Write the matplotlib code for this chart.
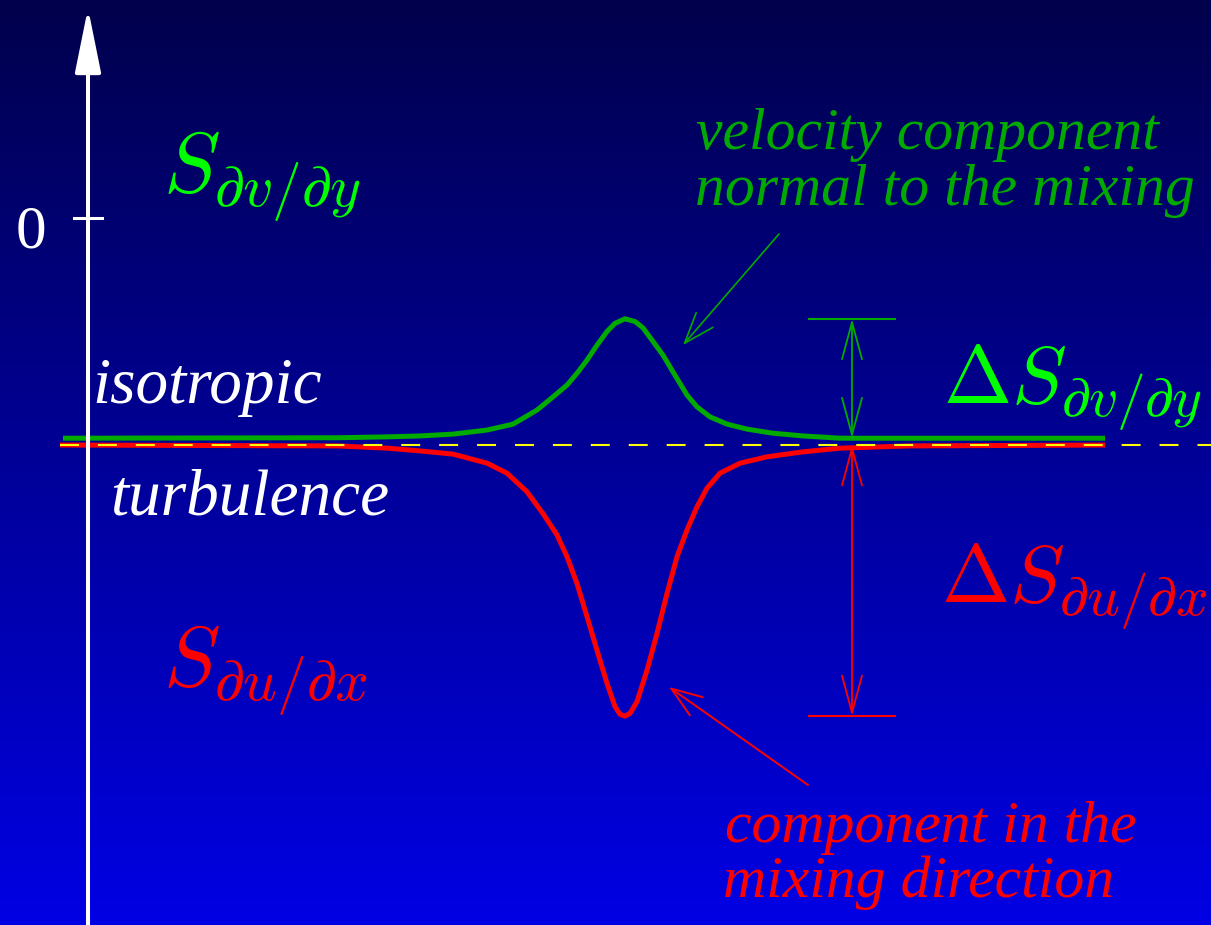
import numpy as np
import matplotlib
matplotlib.use('Agg')
import matplotlib.pyplot as plt
from matplotlib.colors import LinearSegmentedColormap

# ---------------- data ----------------
# cross-stream position (arbitrary units) and skewness of the velocity derivatives
position_v = [-0.25, 2.50, 3.00, 3.32, 3.65, 3.99, 4.25, 4.49, 4.65, 4.79, 4.89,
              4.99, 5.09, 5.19, 5.27, 5.37, 5.47, 5.55, 5.65, 5.75, 5.85, 5.99,
              6.09, 6.22, 6.39, 6.59, 6.85, 7.15, 7.52, 10.17]
skew_dvdy = [-0.485, -0.484, -0.482, -0.480, -0.476, -0.467, -0.454, -0.423, -0.394,
             -0.368, -0.342, -0.313, -0.280, -0.250, -0.232, -0.222, -0.228, -0.242,
             -0.272, -0.302, -0.339, -0.390, -0.416, -0.438, -0.454, -0.465, -0.474,
             -0.480, -0.485, -0.485]

position_u = [-0.28, 2.50, 3.00, 3.32, 3.65, 3.99, 4.19, 4.39, 4.55, 4.69, 4.79,
              4.89, 4.99, 5.09, 5.19, 5.27, 5.32, 5.37, 5.42, 5.49, 5.59, 5.69,
              5.79, 5.89, 5.99, 6.09, 6.19, 6.32, 6.52, 6.79, 7.15, 7.52, 8.20, 10.17]
skew_dudx = [-0.500, -0.502, -0.507, -0.513, -0.520, -0.540, -0.562, -0.603, -0.651,
             -0.698, -0.746, -0.805, -0.878, -0.952, -1.025, -1.076, -1.093, -1.097,
             -1.091, -1.065, -0.996, -0.915, -0.827, -0.746, -0.687, -0.636, -0.595,
             -0.562, -0.540, -0.526, -0.515, -0.507, -0.502, -0.500]

isotropic_skewness = -0.5
tick_values = [0]
tick_labels = ['0']

# ---------------- layout ----------------
W, H = 1211, 925
XMIN, XMAX = -0.88, 11.23
YMIN, YMAX = -1.557, 0.480

def fpx(x, y):
    """figure pixel (from top-left) -> data coordinates (layout helper)"""
    return (XMIN + x / W * (XMAX - XMIN), YMAX - y / H * (YMAX - YMIN))

plt.rcParams['mathtext.fontset'] = 'cm'
fig = plt.figure(figsize=(W / 100, H / 100), dpi=100)
ax = fig.add_axes([0, 0, 1, 1])
ax.set_xlim(XMIN, XMAX)
ax.set_ylim(YMIN, YMAX)
ax.axis('off')

# background gradient
grad = np.linspace(0, 1, 512).reshape(-1, 1)
cmap = LinearSegmentedColormap.from_list('bg', ['#00004c', '#0000e4'])
ax.imshow(grad, extent=[XMIN, XMAX, YMIN, YMAX], aspect='auto', cmap=cmap,
          origin='upper', zorder=0, interpolation='bilinear')

GREEN_DARK = '#00aa00'
GREEN = '#00ff00'
RED = '#ff0000'

# curves
ax.plot(position_v, skew_dvdy, color=GREEN_DARK, lw=3.6, solid_capstyle='butt',
        solid_joinstyle='round', zorder=3)
ax.plot(position_u, skew_dudx, color=RED, lw=3.6, solid_capstyle='butt',
        solid_joinstyle='round', zorder=3)
dash, = ax.plot([position_u[0], XMAX], [isotropic_skewness] * 2, color='#ffff00',
                lw=1.5, zorder=4)
dash.set_dashes([9.1, 9.1])

# vertical axis with arrow
ax.annotate('', xy=(0, fpx(0, 8)[1]), xytext=(0, YMIN),
            arrowprops=dict(arrowstyle='-|>,head_length=1.98,head_width=0.40',
                            color='white', lw=2.9, shrinkA=0, shrinkB=0,
                            mutation_scale=20), zorder=5)
for v, lab in zip(tick_values, tick_labels):
    ax.plot([-0.14, 0.14], [v, v], color='white', lw=2.2, zorder=5)
    ax.text(*fpx(31, 248), lab, color='white', fontsize=44, ha='center',
            va='baseline', family='Liberation Serif')

# brackets for Delta S
xb = 7.64
half = 0.43
vmax = max(skew_dvdy)
umin = min(skew_dudx)
ax.plot([xb - half, xb + half], [vmax, vmax], color=GREEN_DARK, lw=1.5, zorder=3)
ax.annotate('', xy=(xb, vmax), xytext=(xb, skew_dvdy[-1]),
            arrowprops=dict(arrowstyle='<->,head_length=1.33,head_width=0.36',
                            color=GREEN_DARK, lw=1.3, shrinkA=0, shrinkB=0,
                            mutation_scale=20), zorder=3)
ax.plot([xb - half, xb + half], [umin, umin], color=RED, lw=1.5, zorder=3)
ax.annotate('', xy=(xb, umin), xytext=(xb, isotropic_skewness),
            arrowprops=dict(arrowstyle='<->,head_length=1.33,head_width=0.36',
                            color=RED, lw=1.3, shrinkA=0, shrinkB=0,
                            mutation_scale=20), zorder=3)

# pointer arrows
ax.annotate('', xy=fpx(683, 345), xytext=fpx(779, 234),
            arrowprops=dict(arrowstyle='->,head_length=1.1,head_width=0.4',
                            color=GREEN_DARK, lw=1.2, shrinkA=0, shrinkB=0,
                            mutation_scale=20))
ax.annotate('', xy=fpx(669, 687), xytext=fpx(808, 785),
            arrowprops=dict(arrowstyle='->,head_length=1.1,head_width=0.4',
                            color=RED, lw=1.4, shrinkA=0, shrinkB=0,
                            mutation_scale=20))

# texts
tkw = dict(family='Liberation Serif', style='italic', va='baseline', ha='left')
ax.text(*fpx(92, 403), 'isotropic', color='white', fontsize=47, **tkw)
ax.text(*fpx(110, 515), 'turbulence', color='white', fontsize=47, **tkw)
ax.text(*fpx(696, 149), 'velocity component', color=GREEN_DARK, fontsize=43, **tkw)
ax.text(*fpx(695, 205), 'normal to the mixing', color=GREEN_DARK, fontsize=43, **tkw)
ax.text(*fpx(725, 842), 'component in the', color=RED, fontsize=43, **tkw)
ax.text(*fpx(723, 897), 'mixing direction', color=RED, fontsize=43, **tkw)

mkw = dict(va='baseline', ha='left')
ax.text(*fpx(163, 193), r'$S_{\partial v/\partial y}$', color=GREEN, fontsize=61, **mkw)
ax.text(*fpx(163, 687), r'$S_{\partial u/\partial x}$', color=RED, fontsize=61, **mkw)
ax.text(*fpx(943, 403), r'$\Delta S_{\partial v/\partial y}$', color=GREEN, fontsize=59, **mkw)
ax.text(*fpx(941, 602), r'$\Delta S_{\partial u/\partial x}$', color=RED, fontsize=59, **mkw)

fig.savefig('out.png', dpi=100, facecolor='#00004c')
